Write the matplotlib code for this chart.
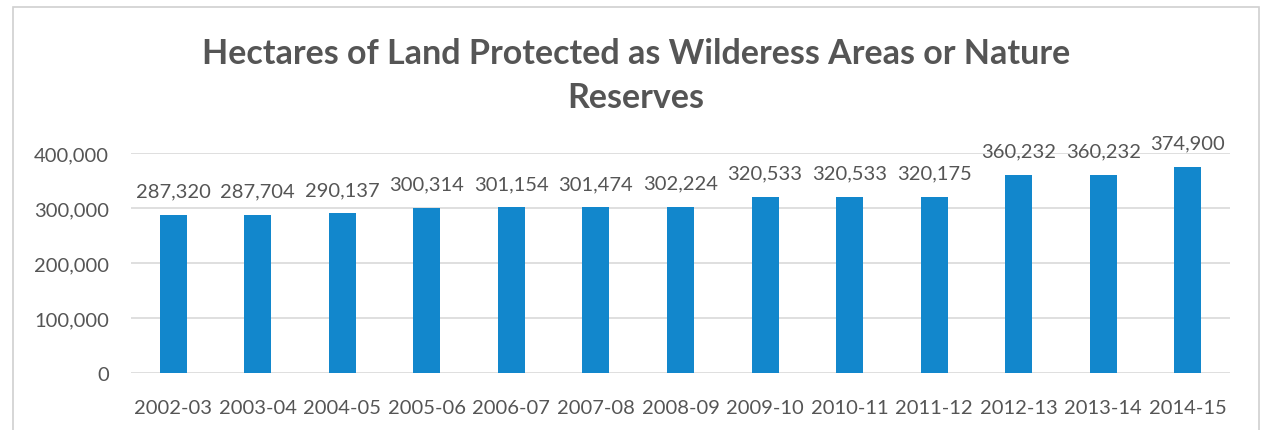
import matplotlib
matplotlib.use("Agg")
import matplotlib.pyplot as plt
from matplotlib.patches import Rectangle
from matplotlib.ticker import FuncFormatter, MultipleLocator

years = ["2002-03", "2003-04", "2004-05", "2005-06", "2006-07", "2007-08", "2008-09",
         "2009-10", "2010-11", "2011-12", "2012-13", "2013-14", "2014-15"]
hectares = [287320, 287704, 290137, 300314, 301154, 301474, 302224,
            320533, 320533, 320175, 360232, 360232, 374900]
title = "Hectares of Land Protected as Wilderess Areas or Nature\nReserves"

FONT = ["Lato", "DejaVu Sans"]
TXT = "#555555"
BAR = "#1287cc"
GRID = "#d9d9d9"

fig = plt.figure(figsize=(12.64, 4.31), dpi=100)
W, H = 1264, 431
ax = fig.add_axes([131 / W, 1 - 374 / H, (1230 - 131) / W, (374 - 154) / H])

x = range(len(years))
ax.bar(x, hectares, width=0.32, color=BAR, zorder=3)
ax.set_xlim(-0.5, len(years) - 0.5)
ax.set_ylim(0, 400000)
ax.yaxis.set_major_locator(MultipleLocator(100000))
ax.yaxis.set_major_formatter(FuncFormatter(lambda v, p: f"{int(v):,}"))
ax.grid(axis="y", color=GRID, linewidth=1.2, zorder=0)
for s in ax.spines.values():
    s.set_visible(False)
ax.tick_params(length=0, labelsize=14.5, labelcolor=TXT)
ax.tick_params(axis="x", pad=19)
ax.tick_params(axis="y", pad=16)
ax.set_xticks(list(x))
ax.set_xticklabels(years)
for lab in ax.get_xticklabels() + ax.get_yticklabels():
    lab.set_fontfamily(FONT)

for i, v in zip(x, hectares):
    ax.annotate(f"{v:,}", (i, v), xytext=(0, 11), textcoords="offset points",
                ha="center", va="bottom", fontsize=14.5, color=TXT, family=FONT)

fig.text(636 / W, 1 - 76 / H, title, ha="center", va="center", fontsize=24.5,
         fontweight="bold", color=TXT, family=FONT, linespacing=1.45)

fig.patches.append(Rectangle((13 / W, -0.01), (1259 - 13) / W, 1 - 8 / H + 0.01,
                             transform=fig.transFigure, fill=False,
                             edgecolor="#d0d0d0", linewidth=1.2))

fig.savefig("out.png", dpi=100, facecolor="white")
